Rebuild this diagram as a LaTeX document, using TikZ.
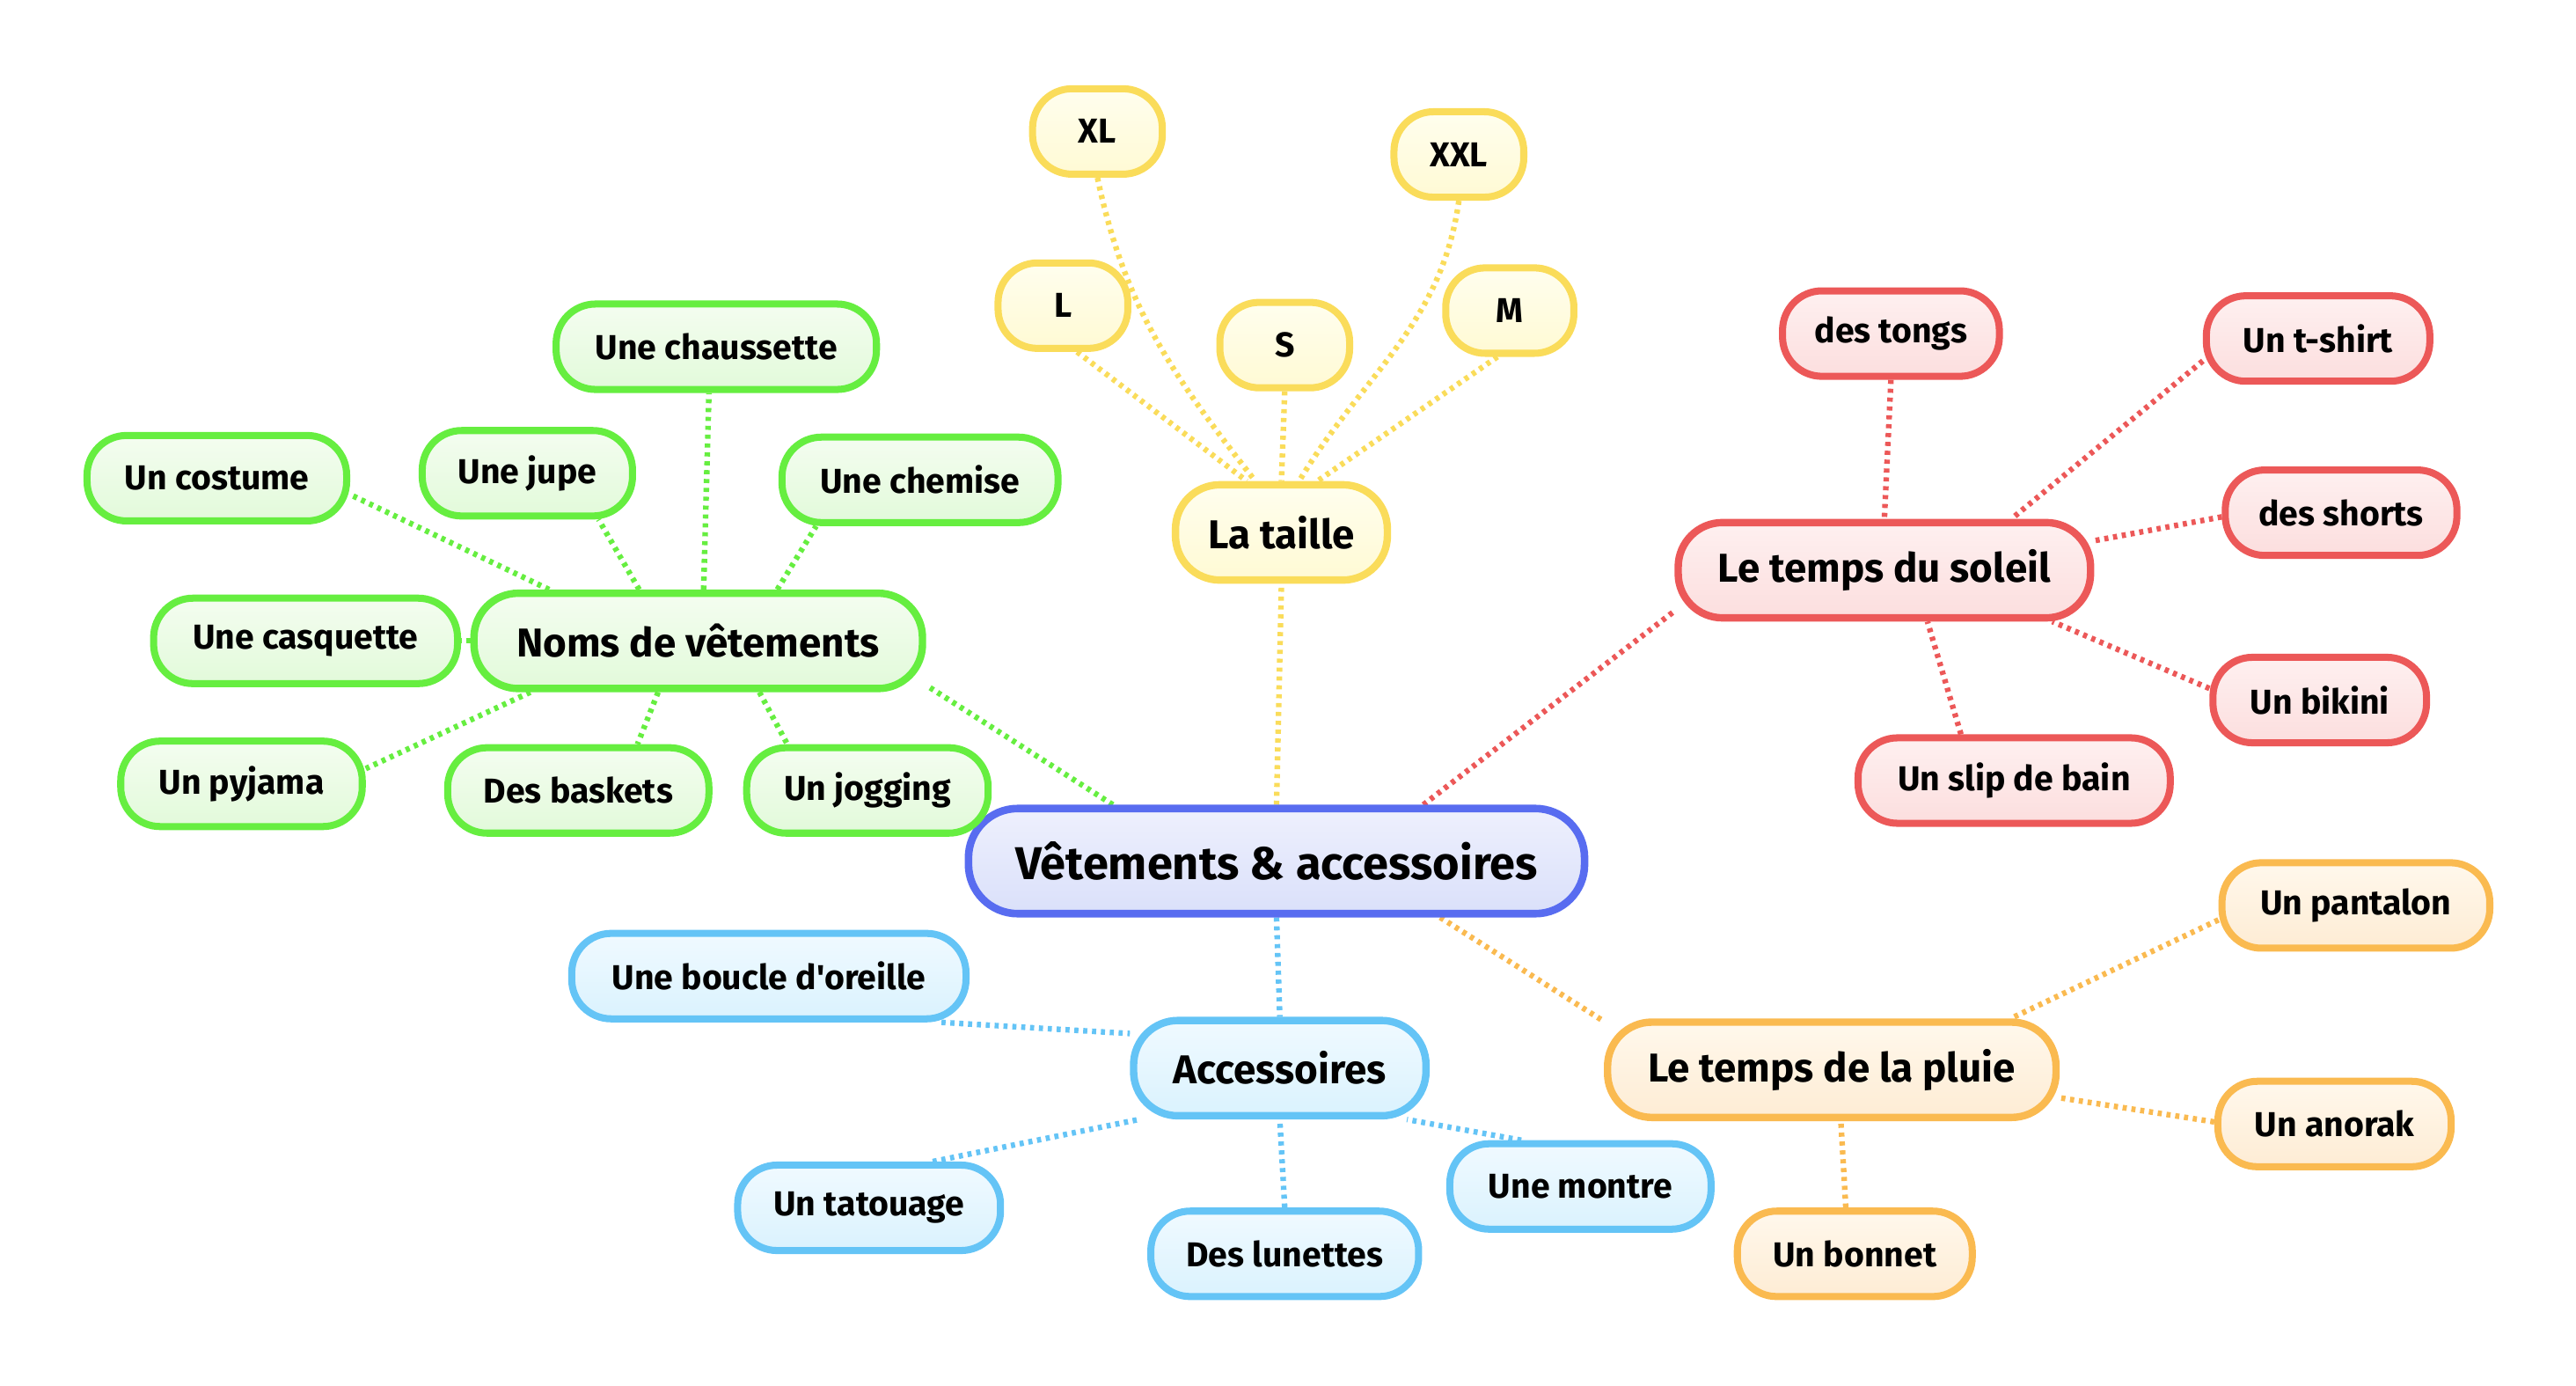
\documentclass[tikz,border=0pt]{standalone}
\usepackage{fontspec}
\setmainfont{Fira Sans}
\usetikzlibrary{backgrounds}
\definecolor{cBlueD}{RGB}{88,108,240}
\definecolor{cBlueT}{RGB}{238,240,253}
\definecolor{cBlueB}{RGB}{218,224,250}
\definecolor{cGreenD}{RGB}{102,238,64}
\definecolor{cGreenT}{RGB}{244,253,240}
\definecolor{cGreenB}{RGB}{226,250,218}
\definecolor{cYelD}{RGB}{250,220,90}
\definecolor{cYelT}{RGB}{255,254,238}
\definecolor{cYelB}{RGB}{255,250,212}
\definecolor{cRedD}{RGB}{236,88,88}
\definecolor{cRedT}{RGB}{254,240,240}
\definecolor{cRedB}{RGB}{252,222,222}
\definecolor{cOrD}{RGB}{250,186,80}
\definecolor{cOrT}{RGB}{255,248,236}
\definecolor{cOrB}{RGB}{254,236,212}
\definecolor{cSkyD}{RGB}{100,196,246}
\definecolor{cSkyT}{RGB}{240,250,255}
\definecolor{cSkyB}{RGB}{218,242,254}
\tikzset{
  base/.style={rectangle, align=center, inner sep=0pt, text=black},
  central/.style={base, minimum height=64, rounded corners=30, line width=4.6pt,
    draw=cBlueD, top color=cBlueT, bottom color=cBlueB, font=\bfseries\fontsize{28}{31}\selectfont},
  main/.style={base, minimum height=58, rounded corners=27, line width=4.5pt, font=\bfseries\fontsize{24.5}{28}\selectfont},
  leaf/.style={base, minimum height=52, rounded corners=24, line width=4.3pt, font=\bfseries\fontsize{21}{24}\selectfont},
  gr/.style={draw=cGreenD, top color=cGreenT, bottom color=cGreenB},
  ye/.style={draw=cYelD, top color=cYelT, bottom color=cYelB},
  rd/.style={draw=cRedD, top color=cRedT, bottom color=cRedB},
  og/.style={draw=cOrD, top color=cOrT, bottom color=cOrB},
  sk/.style={draw=cSkyD, top color=cSkyT, bottom color=cSkyB},
  link/.style={line width=3.4pt, dash pattern=on 2.5pt off 2.9pt},
}
\begin{document}
\begin{tikzpicture}[x=1pt,y=1pt]
\path[use as bounding box] (0,0) rectangle (1568,-843.4);

% central
\node[central, minimum width=375] (c) at (777,-524) {Vêtements \& accessoires};

% main nodes
\node[main, gr, minimum width=273] (noms) at (425,-390) {Noms de vêtements};
\node[main, ye, minimum width=129] (taille) at (780,-324) {La taille};
\node[main, rd, minimum width=251] (soleil) at (1147,-347) {Le temps du soleil};
\node[main, og, minimum width=273] (pluie) at (1115,-651) {Le temps de la pluie};
\node[main, sk, minimum width=178] (acc) at (779,-650) {Accessoires};

% sizes
\node[leaf, ye, minimum width=79] (xl) at (668,-80) {XL};
\node[leaf, ye, minimum width=79] (l) at (647,-186) {L};
\node[leaf, ye, minimum width=79] (s) at (782,-210) {S};
\node[leaf, ye, minimum width=79] (xxl) at (888,-94) {XXL};
\node[leaf, ye, minimum width=78] (m) at (919,-189) {M};

% green leaves
\node[leaf, gr, minimum width=195] (chaussette) at (436,-211) {Une chaussette};
\node[leaf, gr, minimum width=158] (costume) at (132,-291) {Un costume};
\node[leaf, gr, minimum width=128] (jupe) at (321,-288) {Une jupe};
\node[leaf, gr, minimum width=168] (chemise) at (560,-292) {Une chemise};
\node[leaf, gr, minimum width=185] (casquette) at (186,-390) {Une casquette};
\node[leaf, gr, minimum width=147] (pyjama) at (147,-477) {Un pyjama};
\node[leaf, gr, minimum width=159] (baskets) at (352,-481) {Des baskets};
\node[leaf, gr, minimum width=147] (jogging) at (528,-481) {Un jogging};

% red leaves
\node[leaf, rd, minimum width=132] (tongs) at (1151,-203) {des tongs};
\node[leaf, rd, minimum width=136] (tshirt) at (1411,-206) {Un t-shirt};
\node[leaf, rd, minimum width=141] (shorts) at (1425,-312) {des shorts};
\node[leaf, rd, minimum width=130] (bikini) at (1412,-426) {Un bikini};
\node[leaf, rd, minimum width=190] (slip) at (1226,-475) {Un slip de bain};

% orange leaves
\node[leaf, og, minimum width=163] (pantalon) at (1434,-551) {Un pantalon};
\node[leaf, og, minimum width=142] (anorak) at (1421,-684) {Un anorak};
\node[leaf, og, minimum width=143] (bonnet) at (1129,-763) {Un bonnet};

% blue leaves
\node[leaf, sk, minimum width=240] (boucle) at (468,-594) {Une boucle d\textquotesingle oreille};
\node[leaf, sk, minimum width=160] (tatouage) at (529,-735) {Un tatouage};
\node[leaf, sk, minimum width=163] (lunettes) at (782,-763) {Des lunettes};
\node[leaf, sk, minimum width=159] (montre) at (962,-722) {Une montre};

\begin{scope}[on background layer]
% central links
\draw[link, cGreenD] (c.161.6) -- (noms.349);
\draw[link, cYelD] (c.north) -- (taille.south);
\draw[link, cRedD] (c.21.1) -- (soleil.191.3);
\draw[link, cOrD] (c.341.9) -- (pluie.168.3);
\draw[link, cSkyD] (c.south) -- (acc.north);
% green
\draw[link, cGreenD] (noms.161.7) -- (costume.353.6);
\draw[link, cGreenD] (noms.139.4) -- (jupe.327.5);
\draw[link, cGreenD] (noms.84.3) -- (chaussette.261.6);
\draw[link, cGreenD] (noms.33.7) -- (chemise.204.9);
\draw[link, cGreenD] (noms.west) -- (casquette.east);
\draw[link, cGreenD] (noms.197.2) -- (pyjama.7);
\draw[link, cGreenD] (noms.232) -- (baskets.38.2);
\draw[link, cGreenD] (noms.320) -- (jogging.150);
% yellow
\draw[link, cYelD] (xl.south) to[out=-78, in=128] (taille.117.3);
\draw[link, cYelD] (l.287) -- (taille.124.6);
\draw[link, cYelD] (s.south) -- (taille.north);
\draw[link, cYelD] (xxl.south) to[out=-98, in=59] (taille.71);
\draw[link, cYelD] (m.255) -- (taille.55.4);
% red
\draw[link, cRedD] (tongs.south) -- (soleil.north);
\draw[link, cRedD] (tshirt.191) -- (soleil.22.2);
\draw[link, cRedD] (shorts.182.4) -- (soleil.8.8);
\draw[link, cRedD] (bikini.174.7) -- (soleil.343);
\draw[link, cRedD] (slip.139) -- (soleil.310.8);
% orange
\draw[link, cOrD] (pantalon.186.3) -- (pluie.16.2);
\draw[link, cOrD] (anorak.179) -- (pluie.353.3);
\draw[link, cOrD] (bonnet.101) -- (pluie.280);
% blue
\draw[link, cSkyD] (boucle.345.7) -- (acc.167.9);
\draw[link, cSkyD] (tatouage.36.9) -- (acc.200.7);
\draw[link, cSkyD] (lunettes.north) -- (acc.south);
\draw[link, cSkyD] (montre.142.6) -- (acc.338.5);
\end{scope}
\end{tikzpicture}
\end{document}
